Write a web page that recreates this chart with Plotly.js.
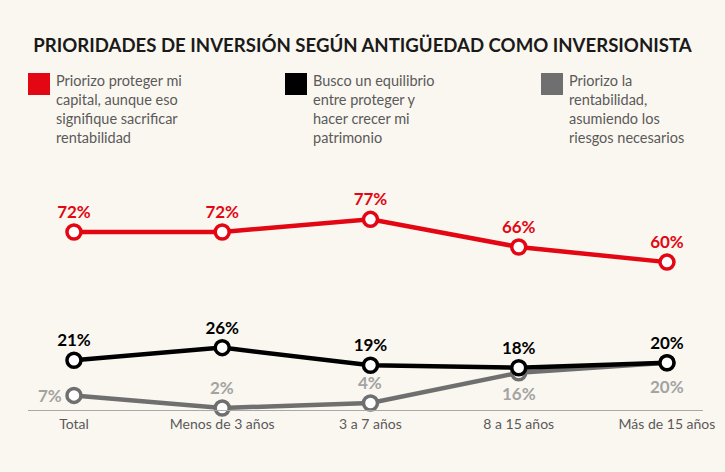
<!DOCTYPE html>
<html>
<head>
<meta charset="utf-8">
<script src="https://cdn.plot.ly/plotly-3.0.1.min.js"></script>
<style>
  html, body { margin: 0; padding: 0; background: #FAF7F0; }
  #plot1 { width: 725px; height: 472px; }
</style>
</head>
<body>
<div id="plot1"></div>
<script>
///////////////////////////////////////////////  data  /////////////////////////////////////////////////////////
var categories = ['Total', 'Menos de 3 años', '3 a 7 años', '8 a 15 años', 'Más de 15 años'];
var proteger = [72, 72, 77, 66, 60];
var equilibrio = [21, 26, 19, 18, 20];
var rentabilidad = [7, 2, 4, 16, 20];

var seriesNames = [
  'Priorizo proteger mi<br>capital, aunque eso<br>signifique sacrificar<br>rentabilidad',
  'Busco un equilibrio<br>entre proteger y<br>hacer crecer mi<br>patrimonio',
  'Priorizo la<br>rentabilidad,<br>asumiendo los<br>riesgos necesarios'
];
var seriesColors = ['#E30613', '#000000', '#6F6F6F'];
var labelColors = ['#E30613', '#000000', '#A3A3A3'];

///////////////////////////////////////////////  plot  /////////////////////////////////////////////////////////
var fontFamily = 'Lato, "Open Sans", sans-serif';

function pct(arr) {
  return arr.map(v => v + '%');
}

function lineTrace(values, i, withText) {
  var trace = {
    x: categories,
    y: values,
    type: 'scatter',
    mode: withText ? 'lines+markers+text' : 'lines+markers',
    line: { color: seriesColors[i], width: 4.5 },
    marker: { size: 14, color: '#FFFFFF', line: { color: seriesColors[i], width: 3.5 } },
    cliponaxis: false,
    hoverinfo: 'skip',
    showlegend: false
  };
  if (withText) {
    trace.text = pct(values);
    trace.textposition = 'top center';
    trace.textfont = { family: fontFamily, size: 17, color: labelColors[i], weight: 'bold' };
  }
  return trace;
}

var dataTemp = [
  lineTrace(rentabilidad, 2, false),
  lineTrace(equilibrio, 1, true),
  lineTrace(proteger, 0, true)
];

// legend boxes + text drawn by hand (paper coords)
var plotL = 28, plotR = 703, plotT = 200, plotB = 410;
function px(x) { return (x - plotL) / (plotR - plotL); }
function py(y) { return (plotB - y) / (plotB - plotT); }

var legendX = [28, 285, 541];
var shapes = [];
var annotations = [];
legendX.forEach(function (lx, i) {
  shapes.push({
    type: 'rect', xref: 'paper', yref: 'paper',
    x0: px(lx), x1: px(lx + 22), y0: py(95), y1: py(73),
    fillcolor: seriesColors[i], line: { width: 0 }
  });
  annotations.push({
    xref: 'paper', yref: 'paper', x: px(lx + 26), y: py(70),
    xanchor: 'left', yanchor: 'top', align: 'left', showarrow: false,
    text: seriesNames[i],
    font: { family: fontFamily, size: 14.5, color: '#5A5A5A' }
  });
});

// grey labels sit left / above / below the markers
var greyXShift = [-10, 0, 0, 0, 0];
var greyYShift = [0, 20, 20, -21, -24];
var greyXAnchor = ['right', 'center', 'center', 'center', 'center'];
rentabilidad.forEach(function (v, k) {
  annotations.push({
    x: categories[k], y: v, xref: 'x', yref: 'y',
    text: v + '%', showarrow: false,
    xanchor: greyXAnchor[k], yanchor: 'middle',
    xshift: greyXShift[k], yshift: greyYShift[k],
    font: { family: fontFamily, size: 17, color: labelColors[2], weight: 'bold' }
  });
});

var layoutLine = {
  width: 725,
  height: 472,
  paper_bgcolor: '#FAF7F0',
  plot_bgcolor: '#FAF7F0',
  margin: { l: plotL, r: 725 - plotR, t: plotT, b: 472 - plotB },
  title: {
    text: 'PRIORIDADES DE INVERSIÓN SEGÚN ANTIGÜEDAD COMO INVERSIONISTA',
    x: 0.5, xanchor: 'center', xref: 'container',
    y: 1 - 45 / 472, yanchor: 'middle', yref: 'container',
    font: { family: fontFamily, size: 18.6, color: '#1A1A1A', weight: 'bold' }
  },
  xaxis: {
    type: 'category',
    range: [-0.31, 4.243],
    showgrid: false, zeroline: false,
    showline: true, linecolor: '#A8A8A8', linewidth: 1,
    ticks: '', ticklen: 0,
    ticklabelstandoff: 1,
    tickfont: { family: fontFamily, size: 14, color: '#5A5A5A' },
    fixedrange: true
  },
  yaxis: {
    range: [1.2, 84.7],
    showgrid: false, zeroline: false, showline: false,
    showticklabels: false, ticks: '',
    fixedrange: true
  },
  shapes: shapes,
  annotations: annotations
};

Plotly.newPlot('plot1', dataTemp, layoutLine, { displayModeBar: false, staticPlot: true });
</script>
</body>
</html>
